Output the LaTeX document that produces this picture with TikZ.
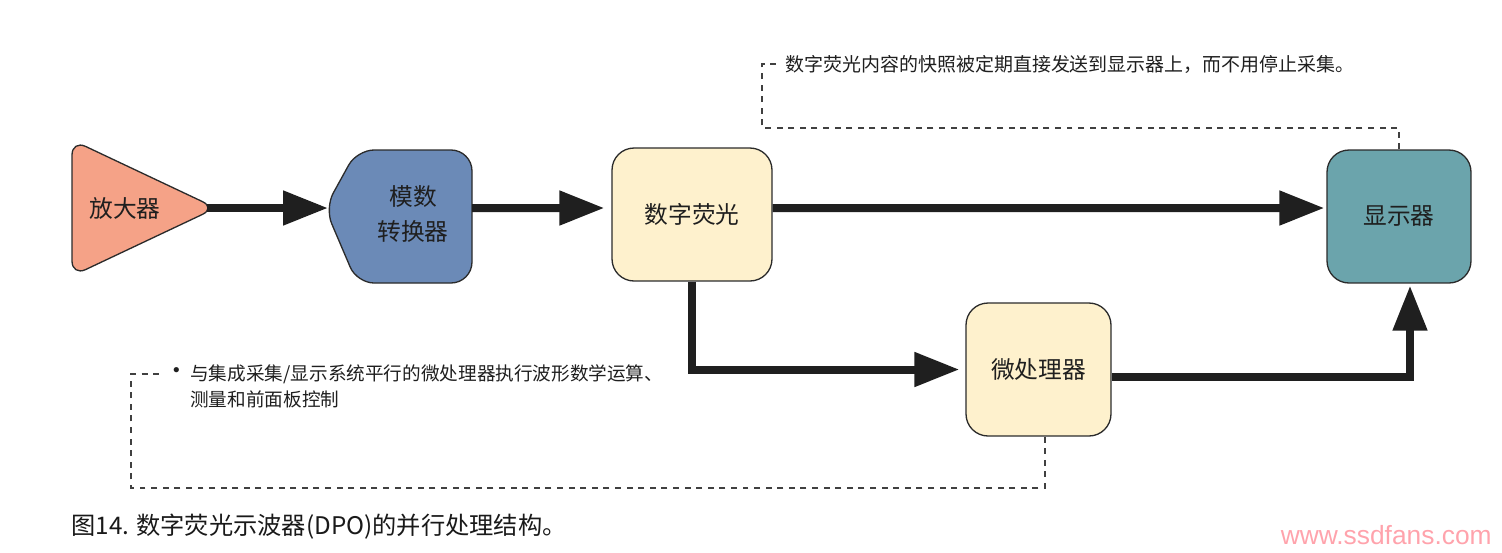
\documentclass[tikz,border=0pt]{standalone}
\usepackage{fontspec}
\setmainfont{Noto Sans CJK SC}
\newfontfamily\markfont{Liberation Sans}
\usepackage{tikz}
\usetikzlibrary{
  arrows.meta,
  positioning
}
\definecolor{ampred}{HTML}{F5A287}
\definecolor{adcblue}{HTML}{6B8AB7}
\definecolor{dpcream}{HTML}{FEF1CD}
\definecolor{dispteal}{HTML}{6BA4AC}
\definecolor{edge}{HTML}{2B2B2B}
\definecolor{markpink}{HTML}{FFA3AC}
\tikzset{>={Triangle[length=9mm,width=6.6mm]}}
\tikzset{
  block/.style={draw=edge,line width=0.75pt,rounded corners=0.44cm,minimum height=2.66cm,text=black!88,font=\fontsize{13.5}{18}\selectfont},
  flow/.style={->,line width=0.16cm,draw=black!88},
  note/.style={draw=black!75,line width=0.7pt,dash pattern=on 3.4pt off 3.2pt},
  notetext/.style={inner sep=0pt,text=black!88,font=\fontsize{10.8}{14.7}\selectfont}
}

\begin{document}
\begin{tikzpicture}[x=0.02cm,y=-0.02cm]
			\useasboundingbox (0,0) rectangle (1502,552);

			% amplifier and converter
			\draw[draw=edge,line width=0.75pt,fill=ampred,rounded corners=0.3cm] (72,140) -- (216,208) -- (72,276) -- cycle;
			\node[text=black!88,font=\fontsize{13.5}{18}\selectfont] (amp) at (125,208) {放大器};
			\coordinate (amp-out) at (207,208);

			\draw[draw=edge,line width=0.75pt,fill=adcblue,rounded corners=0.42cm] (413,150) -- (472,150) -- (472,283) -- (413,283)
				[rounded corners=0.34cm] -- (357,283) -- (325,208) -- (357,150) -- cycle;
			\node[align=center,text=black!88,font=\fontsize{13.5}{19.4}\selectfont] (adc) at (413,214) {模数\\转换器};
			\coordinate (adc-in) at (328,208);
			\coordinate (adc-out) at (472,208);

			% blocks
			\node[block,fill=dpcream,minimum width=3.2cm] (dp) at (692,214.5) {数字荧光};
			\node[block,fill=dispteal,minimum width=2.88cm] (disp) at (1399,216.5) {显示器};
			\node[block,fill=dpcream,minimum width=2.9cm] (mp) at (1038.5,369.5) {微处理器};

			\draw[flow] (amp-out) -- (adc-in);
			\draw[flow,shorten >=0.14cm] (adc-out) -- ([yshift=0.13cm]dp.west);
			\draw[flow,shorten >=0.04cm] ([yshift=0.13cm]dp.east) -- ([yshift=0.17cm]disp.west);
			\draw[flow,shorten >=0.12cm] (dp.south) |- (mp.west);
			\draw[flow,shorten >=0.04cm] ([yshift=-0.15cm]mp.east) -| ([xshift=0.22cm]disp.south);

			% notes
			\node[notetext,anchor=west] (snap) at (785,64) {数字荧光内容的快照被定期直接发送到显示器上，而不用停止采集。};
			\draw[note] (disp.north) |- (762,128) |- ([xshift=-0.18cm]snap.west);

			\node[notetext,font=\fontsize{14}{14}\selectfont] (bullet) at (177,374) {•};
			\node[notetext,anchor=north west,align=left,font=\fontsize{10.6}{14.7}\selectfont] (proc) at (190,364.5) {与集成采集/显示系统平行的微处理器执行波形数学运算、\\测量和前面板控制};
			\draw[note,shorten >=0.06cm] ([xshift=0.13cm]mp.south) |- (131,488) |- (bullet.west);

			% caption
			\node[anchor=west,inner sep=0pt,text=black!90,font=\fontsize{13.8}{16}\selectfont] (caption) at (71,527) {图14. 数字荧光示波器(DPO)的并行处理结构。};
			\node[anchor=east,inner sep=0pt,text=markpink,font=\markfont\fontsize{15}{18}\selectfont] (mark) at (1492,535) {www.ssdfans.com};
		\end{tikzpicture}
\end{document}
